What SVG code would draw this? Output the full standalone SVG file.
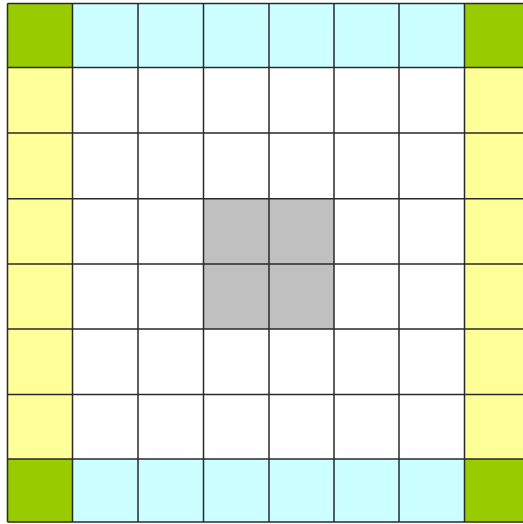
<svg xmlns="http://www.w3.org/2000/svg" width="523" height="524" viewBox="0 0 523 524">
<style>
.g{fill:#99CC00}.c{fill:#CCFFFF}.y{fill:#FFFF99}.s{fill:#C0C0C0}.w{fill:#FFFFFF}
.ln{stroke:#2a2a2a;stroke-width:1.5;fill:none}
</style>
<rect width="523" height="524" fill="#FFFFFF"/>
<g id="cells">
<rect class="g" x="7.5" y="3.5" width="65" height="64"/>
<rect class="g" x="464.5" y="3.5" width="65" height="64"/>
<rect class="g" x="7.5" y="459" width="65" height="63"/>
<rect class="g" x="464.5" y="459" width="65" height="63"/>
<rect class="c" x="72.5" y="3.5" width="392" height="64"/>
<rect class="c" x="72.5" y="459" width="392" height="63"/>
<rect class="y" x="7.5" y="67.5" width="65" height="391.5"/>
<rect class="y" x="464.5" y="67.5" width="65" height="391.5"/>
<rect class="s" x="203.5" y="198.7" width="130.5" height="130.3"/>
</g>
<g id="grid" class="ln">
<path d="M7.5 3.5V522M72.5 3.5V522M138 3.5V522M203.5 3.5V522M269 3.5V522M334 3.5V522M399 3.5V522M464.5 3.5V522"/>
<path d="M7.5 3.5H523M7.5 67.5H523M7.5 133H523M7.5 198.7H523M7.5 264H523M7.5 329H523M7.5 394.5H523M7.5 459H523M7.5 522H523"/>
</g>
</svg>
